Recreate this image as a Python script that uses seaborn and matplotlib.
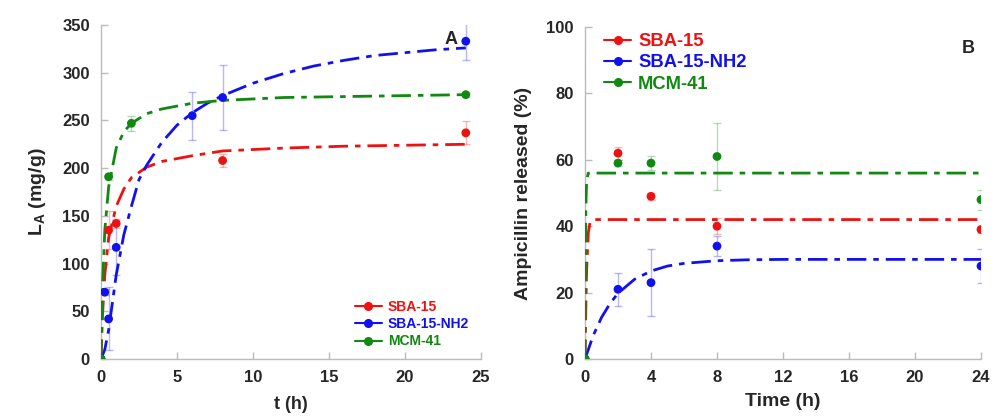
import numpy as np
import pandas as pd
import matplotlib
matplotlib.use("Agg")
import matplotlib.pyplot as plt
import seaborn as sns
from matplotlib.lines import Line2D

# ---------------- Panel A : loading vs time (measured points) ----------------
a_sba_t = [0, 0.5, 1, 8, 24]
a_sba_y = [0, 135, 142, 208, 237]
a_sba_err = [0, 20, 5, 7, 12]

a_nh2_t = [0, 0.25, 0.5, 1, 6, 8, 24]
a_nh2_y = [0, 70, 42, 117, 255, 274, 333]
a_nh2_err = [0, 3, 33, 29, 25, 34, 20]

a_mcm_t = [0, 0.5, 2, 24]
a_mcm_y = [0, 191, 247, 277]
a_mcm_err = [0, 3, 8, 2]

# Panel A fitted curves
a_sba_fit_t = [0, 0.1, 0.25, 0.5, 1, 1.5, 2, 3, 4, 6, 8, 12, 16, 20, 24]
a_sba_fit_y = [0, 46, 88, 127, 160, 178, 190, 201, 207, 213, 218, 221, 223, 224, 225]
a_nh2_fit_t = [0, 0.25, 0.5, 1, 1.5, 2, 2.5, 3, 4, 5, 6, 7, 8, 10, 12, 14, 16, 18, 20, 22, 24]
a_nh2_fit_y = [0, 10, 30, 88, 130, 160, 188, 203, 227, 245, 258, 268, 276, 289, 299, 307, 313, 318, 321, 324, 326]
a_mcm_fit_t = [0, 0.1, 0.25, 0.5, 1, 1.5, 2, 3, 4, 6, 8, 12, 16, 20, 24]
a_mcm_fit_y = [0, 76, 135, 180, 221, 238, 247, 257, 262, 268, 271, 274, 275, 276, 277]

# ---------------- Panel B : release vs time ----------------
b_t = [0, 2, 4, 8, 24]
b_sba_y = [0, 62, 49, 40, 39]
b_sba_err = [0, 2, 1, 2.5, 1]
b_nh2_y = [0, 21, 23, 34, 28]
b_nh2_err = [0, 5, 10, 3, 5]
b_mcm_y = [0, 59, 59, 61, 48]
b_mcm_err = [0, 1, 2, 10, 3]

b_sba_fit_t = [0, 0.05, 0.1, 0.2, 0.3, 0.5, 1, 24]
b_sba_fit_y = [0, 15, 27, 38, 41, 42, 42, 42]
b_nh2_fit_t = [0, 0.5, 1, 1.5, 2, 3, 4, 5, 6, 8, 10, 12, 16, 20, 24]
b_nh2_fit_y = [0, 7.1, 12.5, 16.6, 19.8, 24.0, 26.5, 28.0, 28.8, 29.6, 29.9, 30, 30, 30, 30]
b_mcm_fit_t = [0, 0.02, 0.05, 0.1, 0.2, 24]
b_mcm_fit_y = [0, 25, 45, 54, 56, 56]

labels = ["SBA-15", "SBA-15-NH2", "MCM-41"]
colors = {"SBA-15": "#ee1111", "SBA-15-NH2": "#1111ee", "MCM-41": "#118811"}

sns.set_theme(style="white")
plt.rcParams["font.family"] = ["Liberation Sans", "DejaVu Sans"]
plt.rcParams["font.weight"] = "bold"
plt.rcParams["mathtext.fontset"] = "custom"
plt.rcParams["mathtext.rm"] = "Liberation Sans:bold"
plt.rcParams["mathtext.bf"] = "Liberation Sans:bold"

fig = plt.figure(figsize=(9.94, 4.19), dpi=100)
axA = fig.add_axes([101 / 994, 1 - 359 / 419, 380 / 994, 334 / 419])
axB = fig.add_axes([585 / 994, 1 - 359 / 419, 396 / 994, 332 / 419])

dash = (0, (7, 2.5, 2, 2.5))


def draw(ax, pts, fits):
    for name, (t, y, e) in zip(labels, pts):
        c = colors[name]
        ax.errorbar(t, y, yerr=e, fmt="none", ecolor=c, alpha=0.3,
                    elinewidth=1, capsize=3, capthick=1, zorder=2)
    for name, (ft, fy) in zip(labels, fits):
        df = pd.DataFrame({"t": ft, "y": fy})
        sns.lineplot(data=df, x="t", y="y", ax=ax, color=colors[name],
                     linewidth=2, linestyle=dash, estimator=None, sort=False,
                     zorder=3)
    for name, (t, y, e) in zip(labels, pts):
        df = pd.DataFrame({"t": t, "y": y})
        sns.scatterplot(data=df, x="t", y="y", ax=ax, color=colors[name],
                        s=40, edgecolor="none", zorder=4)


draw(axA,
     [(a_sba_t, a_sba_y, a_sba_err), (a_nh2_t, a_nh2_y, a_nh2_err),
      (a_mcm_t, a_mcm_y, a_mcm_err)],
     [(a_sba_fit_t, a_sba_fit_y), (a_nh2_fit_t, a_nh2_fit_y),
      (a_mcm_fit_t, a_mcm_fit_y)])
draw(axB,
     [(b_t, b_sba_y, b_sba_err), (b_t, b_nh2_y, b_nh2_err),
      (b_t, b_mcm_y, b_mcm_err)],
     [(b_sba_fit_t, b_sba_fit_y), (b_nh2_fit_t, b_nh2_fit_y),
      (b_mcm_fit_t, b_mcm_fit_y)])

for ax in (axA, axB):
    sns.despine(ax=ax)
    for s in ("left", "bottom"):
        ax.spines[s].set_color("#bbbbbb")
        ax.spines[s].set_linewidth(1)
    ax.tick_params(direction="in", length=5, color="#bbbbbb", width=1,
                   labelsize=12, pad=8, bottom=True, left=True)

axA.set_xlim(0, 25)
axA.set_ylim(0, 350)
axA.set_xticks([0, 5, 10, 15, 20, 25])
axA.set_yticks(range(0, 351, 50))
axA.set_xlabel("t (h)", fontsize=13, fontweight="bold", labelpad=8)
axA.set_ylabel(r"L$_\mathregular{A}$ (mg/g)", fontsize=14, fontweight="bold", labelpad=10)
axA.text(23.0, 335, "A", fontsize=13, fontweight="bold", ha="center", va="center")

axB.set_xlim(0, 24)
axB.set_ylim(0, 100)
axB.set_xticks(range(0, 25, 4))
axB.set_yticks(range(0, 101, 20))
axB.set_xlabel("Time (h)", fontsize=14, fontweight="bold", labelpad=6)
axB.set_ylabel("Ampicillin released (%)", fontsize=14, fontweight="bold", labelpad=10)
axB.text(23.2, 93.5, "B", fontsize=13, fontweight="bold", ha="center", va="center")

for ax in (axA, axB):
    for lab in ax.get_xticklabels() + ax.get_yticklabels():
        lab.set_fontweight("bold")

handles = [Line2D([0], [0], color=colors[n], marker="o", markersize=5.5, linewidth=1.5)
           for n in labels]
legA = axA.legend(handles, labels, loc="upper left", bbox_to_anchor=(0.668, 0.178),
                  frameon=False, prop={"weight": "bold", "size": 10},
                  handlelength=1.95, handletextpad=0.43, labelspacing=0.25,
                  borderpad=0, borderaxespad=0)
legB = axB.legend(handles, labels, loc="upper left", bbox_to_anchor=(0.048, 0.982),
                  frameon=False, prop={"weight": "bold", "size": 13.25},
                  handlelength=1.47, handletextpad=0.38, labelspacing=0.24,
                  borderpad=0, borderaxespad=0)
for leg in (legA, legB):
    for txt, n in zip(leg.get_texts(), labels):
        txt.set_color(colors[n])
        txt.set_fontweight("bold")

fig.savefig("out.png", dpi=100)
